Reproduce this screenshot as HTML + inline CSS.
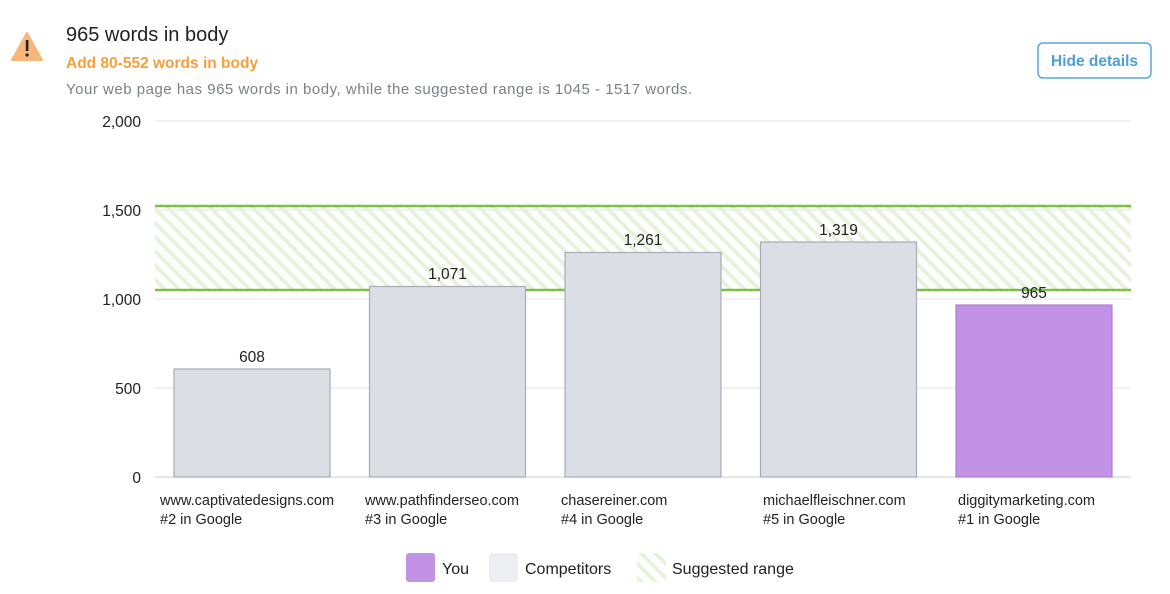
<!DOCTYPE html>
<html><head><meta charset="utf-8"><style>
body{margin:0;background:#fff;width:1170px;height:589px;overflow:hidden;font-family:"Liberation Sans",sans-serif}
</style></head><body>
<svg width="1170" height="589" viewBox="0 0 1170 589" xmlns="http://www.w3.org/2000/svg" font-family="Liberation Sans, sans-serif">
<defs>
<pattern id="h" patternUnits="userSpaceOnUse" width="10" height="10" patternTransform="rotate(-45)">
<rect x="0" y="0" width="4" height="10" fill="#e6f3da"/>
</pattern>
</defs>
<path d="M27 33 L42 60 L12 60 Z" fill="#f7b67a" stroke="#f7b67a" stroke-width="2" stroke-linejoin="round"/>
<rect x="25.8" y="40" width="2.6" height="11" fill="#222"/>
<circle cx="27.1" cy="55" r="1.6" fill="#222"/>
<text x="66" y="41" font-size="20" fill="#222">965 words in body</text>
<text x="66" y="68" font-size="15.5" font-weight="bold" fill="#f5a03c">Add 80-552 words in body</text>
<text x="66" y="94" font-size="15" fill="#7b7f87" textLength="626">Your web page has 965 words in body, while the suggested range is 1045 - 1517 words.</text>
<rect x="1038" y="43" width="113" height="35" rx="5" fill="#fff" stroke="#5aa8d8" stroke-width="1.5"/>
<text x="1094.5" y="66" font-size="15.5" font-weight="bold" fill="#4a9fd3" text-anchor="middle">Hide details</text>
<g stroke="#e2e4e8" stroke-width="1">
<line x1="155" y1="121" x2="1131" y2="121"/>
<line x1="155" y1="210" x2="1131" y2="210"/>
<line x1="155" y1="299" x2="1131" y2="299"/>
<line x1="155" y1="388" x2="1131" y2="388"/>
<line x1="155" y1="477" x2="1131" y2="477" stroke="#ccc"/>
</g>
<g font-size="15.5" fill="#222" text-anchor="end">
<text x="141" y="127">2,000</text>
<text x="141" y="216">1,500</text>
<text x="141" y="305">1,000</text>
<text x="141" y="394">500</text>
<text x="141" y="483">0</text>
</g>
<rect x="155" y="207" width="976" height="84" fill="url(#h)"/>
<line x1="155" y1="206" x2="1131" y2="206" stroke="#7bc144" stroke-width="2.5"/>
<line x1="155" y1="290" x2="1131" y2="290" stroke="#7bc144" stroke-width="2.5"/>
<g fill="#dcdee6" stroke="#a7abb8" stroke-width="1.2">
<rect x="174" y="369" width="156" height="108"/>
<rect x="369.5" y="286.5" width="156" height="190.5"/>
<rect x="565" y="252.5" width="156" height="224.5"/>
<rect x="760.5" y="242" width="156" height="235"/>
</g>
<rect x="956" y="305" width="156" height="172" fill="#c292e4" stroke="#b27fdb" stroke-width="1.2"/>
<g font-size="15.5" fill="#222" text-anchor="middle">
<text x="252" y="362">608</text>
<text x="447.5" y="279">1,071</text>
<text x="643" y="245">1,261</text>
<text x="838.5" y="235">1,319</text>
<text x="1034" y="298">965</text>
</g>
<g font-size="14.5" fill="#222">
<text x="160" y="505">www.captivatedesigns.com</text><text x="160" y="524">#2 in Google</text>
<text x="365" y="505">www.pathfinderseo.com</text><text x="365" y="524">#3 in Google</text>
<text x="561" y="505">chasereiner.com</text><text x="561" y="524">#4 in Google</text>
<text x="763" y="505">michaelfleischner.com</text><text x="763" y="524">#5 in Google</text>
<text x="958" y="505">diggitymarketing.com</text><text x="958" y="524">#1 in Google</text>
</g>
<rect x="406" y="553" width="29" height="29" rx="3" fill="#c292e4"/>
<text x="442" y="574" font-size="16" fill="#222">You</text>
<rect x="489" y="553" width="29" height="29" rx="3" fill="#eceef1"/>
<text x="525" y="574" font-size="16" fill="#222">Competitors</text>
<rect x="637" y="553" width="29" height="29" fill="url(#h)"/>
<text x="672" y="574" font-size="16" fill="#222">Suggested range</text>
</svg>
</body></html>
